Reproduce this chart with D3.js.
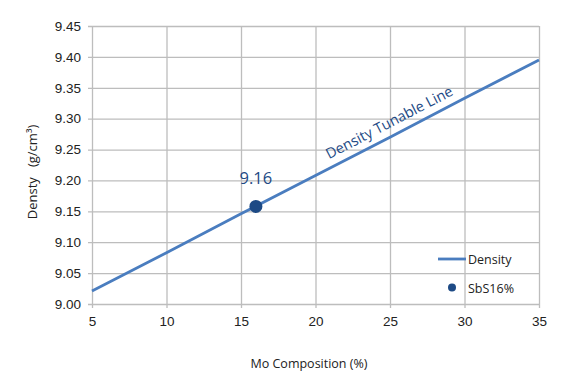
<!DOCTYPE html>
<html>
<head>
<meta charset="utf-8">
<script src="https://cdn.jsdelivr.net/npm/d3@7"></script>
<style>
  body { margin: 0; background: #fff; }
  svg { font-family: "Open Sans", "Noto Sans", sans-serif; }
</style>
</head>
<body>
<svg width="580" height="383"></svg>
<script>
// data
const composition = [5, 10, 15, 20, 25, 30, 35];
const density = [9.021, 9.083, 9.146, 9.208, 9.270, 9.333, 9.395];
const sample = [{ name: "SbS16%", x: 16, y: 9.158, label: "9.16" }];
const xTicks = [5, 10, 15, 20, 25, 30, 35];
const yTicks = [9.00, 9.05, 9.10, 9.15, 9.20, 9.25, 9.30, 9.35, 9.40, 9.45];

const lineColor = "#4a7dbf";
const dotColor = "#1d4a85";
const gridColor = "#bdbdbd";

const svg = d3.select("svg");
const margin = { left: 92, right: 41, top: 26, bottom: 79 };
const width = 580 - margin.left - margin.right;
const height = 383 - margin.top - margin.bottom;

const g = svg.append("g")
    .attr("transform", `translate(${margin.left},${margin.top})`);

const x = d3.scaleLinear().domain([5, 35]).range([0, width]);
const y = d3.scaleLinear().domain([9.00, 9.45]).range([height, 0]);

// grid + axes
const xAxis = g.append("g")
    .attr("transform", `translate(0,${height})`)
    .call(d3.axisBottom(x).tickValues(xTicks).tickSize(-height).tickSizeOuter(0).tickPadding(12));
xAxis.selectAll(".tick line").attr("y1", 4);

const yAxis = g.append("g")
    .call(d3.axisLeft(y).tickValues(yTicks).tickFormat(d3.format(".2f")).tickSize(-width).tickSizeOuter(0).tickPadding(11));
yAxis.selectAll(".tick line").attr("x1", -4);

svg.selectAll(".domain").remove();
svg.selectAll(".tick line").attr("stroke", gridColor).attr("stroke-width", 1.3);
svg.selectAll(".tick text").attr("fill", "#222").style("font-size", "13.5px");

// density line
const line = d3.line()
    .x((d, i) => x(composition[i]))
    .y(d => y(d));

g.append("path")
    .datum(density)
    .attr("fill", "none")
    .attr("stroke", lineColor)
    .attr("stroke-width", 2.8)
    .attr("d", line);

// line annotation, rotated along the line
const p0 = [x(composition[0]), y(density[0])];
const p1 = [x(composition[composition.length - 1]), y(density[density.length - 1])];
const angle = Math.atan2(p1[1] - p0[1], p1[0] - p0[0]) * 180 / Math.PI;
const annX = x(25.1);
const annY = y(9.272) - 9;
g.append("text")
    .attr("transform", `translate(${annX},${annY}) rotate(${angle})`)
    .attr("text-anchor", "middle")
    .attr("fill", "#1d4a85")
    .style("font-size", "14.5px")
    .text("Density Tunable Line");

// sample point
g.selectAll(".dot")
    .data(sample)
    .join("circle")
    .attr("cx", d => x(d.x))
    .attr("cy", d => y(d.y))
    .attr("r", 6.5)
    .attr("fill", dotColor);

g.selectAll(".dot-label")
    .data(sample)
    .join("text")
    .attr("x", d => x(d.x))
    .attr("y", d => y(d.y) - 22)
    .attr("text-anchor", "middle")
    .attr("fill", "#1d4a85")
    .style("font-size", "16.5px")
    .text(d => d.label);

// legend
const legend = svg.append("g").attr("transform", "translate(438,259)");
legend.append("line")
    .attr("x1", 0).attr("x2", 28)
    .attr("stroke", lineColor).attr("stroke-width", 2.8);
legend.append("text")
    .attr("x", 30).attr("y", 5)
    .attr("fill", "#222").style("font-size", "12.5px")
    .text("Density");
legend.append("circle")
    .attr("cx", 14).attr("cy", 28.5).attr("r", 4)
    .attr("fill", dotColor);
legend.append("text")
    .attr("x", 30).attr("y", 33.5)
    .attr("fill", "#222").style("font-size", "12.5px")
    .text(sample[0].name);

// axis titles
svg.append("text")
    .attr("x", 309).attr("y", 368)
    .attr("text-anchor", "middle")
    .attr("fill", "#222").style("font-size", "12.5px")
    .text("Mo Composition (%)");

svg.append("text")
    .attr("transform", "translate(37,172) rotate(-90)")
    .attr("text-anchor", "middle")
    .attr("fill", "#222").style("font-size", "13px")
    .style("white-space", "pre")
    .text("Densty   (g/cm³)");
</script>
</body>
</html>
